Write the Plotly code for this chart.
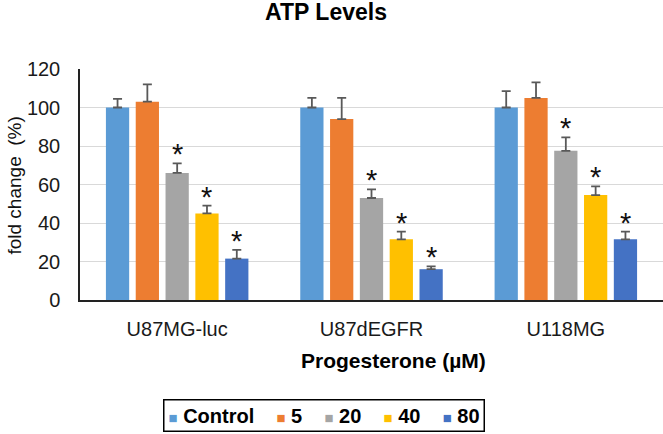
import plotly.graph_objects as go

categories = ["U87MG-luc", "U87dEGFR", "U118MG"]
series_names = ["Control", "5", "20", "40", "80"]
control = [100, 100, 100]
dose5 = [103, 94, 105]
dose20 = [66, 53, 77.5]
dose40 = [45, 31.5, 54.5]
dose80 = [21.5, 16, 31.5]
err_control = [4.5, 5, 8.5]
err5 = [9, 11, 8]
err20 = [5, 4.5, 7]
err40 = [4, 4, 4.5]
err80 = [4.5, 1.5, 4]
significant = [False, False, True, True, True]
colors = ["#5B9BD5", "#ED7D31", "#A5A5A5", "#FFC000", "#4472C4"]

values = [control, dose5, dose20, dose40, dose80]
errors = [err_control, err5, err20, err40, err80]

FONT = "Arial, Liberation Sans, sans-serif"
fig = go.Figure()
for name, vals, errs, col in zip(series_names, values, errors, colors):
    fig.add_trace(go.Bar(
        name=name, x=categories, y=vals, marker_color=col, marker_line_width=0,
        showlegend=False,
        error_y=dict(type="data", symmetric=False, array=errs,
                     arrayminus=[0] * len(errs), color="#595959",
                     thickness=1.8, width=4.5),
    ))

bargap = 0.233
slot = (1 - bargap) / len(series_names)
annotations = []
for j, (vals, errs, sig) in enumerate(zip(values, errors, significant)):
    if not sig:
        continue
    for i in range(len(categories)):
        annotations.append(dict(
            x=i + (j - 2) * slot, y=vals[i] + errs[i], xref="x", yref="y",
            text="*", showarrow=False, yanchor="middle", yshift=9,
            font=dict(family=FONT, size=29, color="#111111"),
        ))

annotations.append(dict(
    x=-0.114, y=0.4935, xref="paper", yref="paper", text="fold change  (%)",
    textangle=-90, showarrow=False, xanchor="center", yanchor="middle",
    font=dict(family=FONT, size=19, color="#111111"),
))
annotations.append(dict(
    x=0.537, y=-0.264, xref="paper", yref="paper", text="<b>Progesterone (µM)</b>",
    showarrow=False, xanchor="center", yanchor="middle",
    font=dict(family=FONT, size=21, color="#000000"),
))

# legend box built from the series names and colours
parts = []
for name, col in zip(series_names, colors):
    parts.append(
        f"<span style='color:{col};font-size:15px'>■</span>&nbsp;<b>{name}</b>"
    )
legend_text = "&nbsp;&nbsp;&nbsp;&nbsp;".join(parts)
annotations.append(dict(
    x=0.4177, y=-0.498, xref="paper", yref="paper", text=legend_text,
    showarrow=False, xanchor="center", yanchor="middle",
    bordercolor="#000000", borderwidth=1.5, borderpad=4, bgcolor="white",
    font=dict(family=FONT, size=20, color="#000000"),
))

fig.update_layout(
    width=663, height=434,
    margin=dict(l=80, r=0, t=69, b=134),
    paper_bgcolor="white", plot_bgcolor="white",
    barmode="group", bargap=bargap, bargroupgap=0.22,
    title=dict(text="<b>ATP Levels</b>", x=326 / 663, xanchor="center",
               y=1 - 12 / 434, yanchor="middle",
               font=dict(family=FONT, size=23, color="#000000")),
    xaxis=dict(showline=True, linecolor="#222222", linewidth=2,
               tickfont=dict(family=FONT, size=20, color="#1a1a1a"),
               ticklabelstandoff=10, showgrid=False),
    yaxis=dict(range=[0, 120], dtick=20, showline=True, linecolor="#222222",
               linewidth=1.5, gridcolor="#D9D9D9", gridwidth=1,
               tickfont=dict(family=FONT, size=20, color="#1a1a1a"),
               ticklabelstandoff=14, zeroline=False),
    annotations=annotations,
    showlegend=False,
)

fig.write_html("out.html", config={"displayModeBar": False},
               post_script="document.body.style.margin='0';")
